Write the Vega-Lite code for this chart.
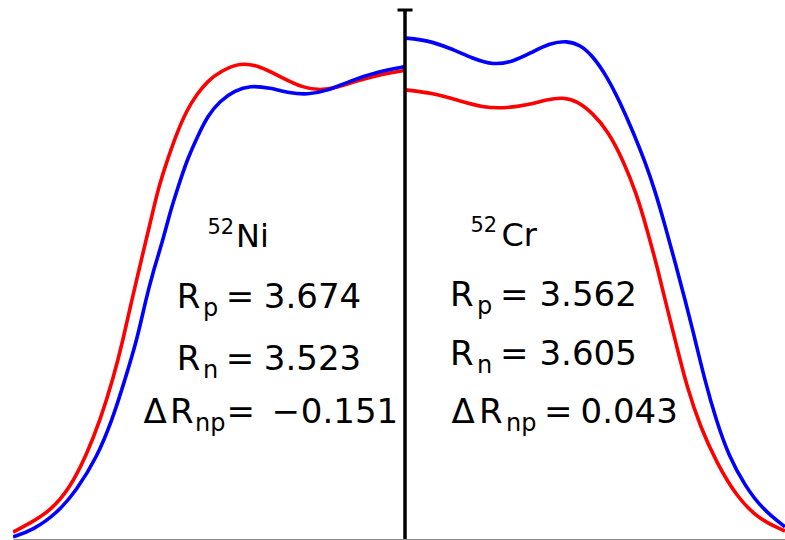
{
  "$schema": "https://vega.github.io/schema/vega-lite/v6.json",
  "width": 772,
  "height": 529,
  "autosize": {"type": "none"},
  "padding": {"left": 13, "top": 10, "right": 0, "bottom": 1},
  "background": "white",
  "config": {"view": {"stroke": null}},
  "datasets": {
    "curves": [
      {"c":"Ni-p","s":"p","r":-6.20,"rho":0.0013},{"c":"Ni-p","s":"p","r":-5.93,"rho":0.0030},{"c":"Ni-p","s":"p","r":-5.61,"rho":0.0053},{"c":"Ni-p","s":"p","r":-5.30,"rho":0.0096},{"c":"Ni-p","s":"p","r":-5.03,"rho":0.0161},{"c":"Ni-p","s":"p","r":-4.82,"rho":0.0225},{"c":"Ni-p","s":"p","r":-4.62,"rho":0.0301},{"c":"Ni-p","s":"p","r":-4.46,"rho":0.0376},{"c":"Ni-p","s":"p","r":-4.32,"rho":0.0452},{"c":"Ni-p","s":"p","r":-4.16,"rho":0.0533},{"c":"Ni-p","s":"p","r":-4.03,"rho":0.0597},{"c":"Ni-p","s":"p","r":-3.91,"rho":0.0660},{"c":"Ni-p","s":"p","r":-3.76,"rho":0.0716},{"c":"Ni-p","s":"p","r":-3.61,"rho":0.0767},{"c":"Ni-p","s":"p","r":-3.45,"rho":0.0811},{"c":"Ni-p","s":"p","r":-3.29,"rho":0.0841},{"c":"Ni-p","s":"p","r":-3.12,"rho":0.0866},{"c":"Ni-p","s":"p","r":-2.93,"rho":0.0883},{"c":"Ni-p","s":"p","r":-2.61,"rho":0.0901},{"c":"Ni-p","s":"p","r":-2.29,"rho":0.0894},{"c":"Ni-p","s":"p","r":-1.93,"rho":0.0871},{"c":"Ni-p","s":"p","r":-1.61,"rho":0.0853},{"c":"Ni-p","s":"p","r":-1.34,"rho":0.0848},{"c":"Ni-p","s":"p","r":-1.08,"rho":0.0853},{"c":"Ni-p","s":"p","r":-0.76,"rho":0.0866},{"c":"Ni-p","s":"p","r":-0.35,"rho":0.0879},{"c":"Ni-p","s":"p","r":0,"rho":0.0886},
      {"c":"Ni-n","s":"n","r":-6.20,"rho":0.0004},{"c":"Ni-n","s":"n","r":-5.88,"rho":0.0017},{"c":"Ni-n","s":"n","r":-5.50,"rho":0.0049},{"c":"Ni-n","s":"n","r":-5.19,"rho":0.0093},{"c":"Ni-n","s":"n","r":-4.87,"rho":0.0155},{"c":"Ni-n","s":"n","r":-4.63,"rho":0.0225},{"c":"Ni-n","s":"n","r":-4.43,"rho":0.0301},{"c":"Ni-n","s":"n","r":-4.24,"rho":0.0376},{"c":"Ni-n","s":"n","r":-4.10,"rho":0.0452},{"c":"Ni-n","s":"n","r":-3.99,"rho":0.0503},{"c":"Ni-n","s":"n","r":-3.84,"rho":0.0560},{"c":"Ni-n","s":"n","r":-3.72,"rho":0.0616},{"c":"Ni-n","s":"n","r":-3.59,"rho":0.0665},{"c":"Ni-n","s":"n","r":-3.45,"rho":0.0716},{"c":"Ni-n","s":"n","r":-3.27,"rho":0.0764},{"c":"Ni-n","s":"n","r":-3.12,"rho":0.0800},{"c":"Ni-n","s":"n","r":-2.93,"rho":0.0828},{"c":"Ni-n","s":"n","r":-2.69,"rho":0.0848},{"c":"Ni-n","s":"n","r":-2.45,"rho":0.0857},{"c":"Ni-n","s":"n","r":-2.14,"rho":0.0853},{"c":"Ni-n","s":"n","r":-1.82,"rho":0.0843},{"c":"Ni-n","s":"n","r":-1.55,"rho":0.0840},{"c":"Ni-n","s":"n","r":-1.23,"rho":0.0847},{"c":"Ni-n","s":"n","r":-0.87,"rho":0.0866},{"c":"Ni-n","s":"n","r":-0.44,"rho":0.0883},{"c":"Ni-n","s":"n","r":0,"rho":0.0893},
      {"c":"Cr-n","s":"n","r":0,"rho":0.0947},{"c":"Cr-n","s":"n","r":0.35,"rho":0.0943},{"c":"Cr-n","s":"n","r":0.71,"rho":0.0928},{"c":"Cr-n","s":"n","r":1.08,"rho":0.0908},{"c":"Cr-n","s":"n","r":1.39,"rho":0.0896},{"c":"Cr-n","s":"n","r":1.71,"rho":0.0902},{"c":"Cr-n","s":"n","r":2.02,"rho":0.0921},{"c":"Cr-n","s":"n","r":2.29,"rho":0.0937},{"c":"Cr-n","s":"n","r":2.56,"rho":0.0942},{"c":"Cr-n","s":"n","r":2.77,"rho":0.0934},{"c":"Cr-n","s":"n","r":2.97,"rho":0.0913},{"c":"Cr-n","s":"n","r":3.19,"rho":0.0875},{"c":"Cr-n","s":"n","r":3.40,"rho":0.0826},{"c":"Cr-n","s":"n","r":3.61,"rho":0.0769},{"c":"Cr-n","s":"n","r":3.80,"rho":0.0712},{"c":"Cr-n","s":"n","r":3.95,"rho":0.0660},{"c":"Cr-n","s":"n","r":4.11,"rho":0.0594},{"c":"Cr-n","s":"n","r":4.27,"rho":0.0524},{"c":"Cr-n","s":"n","r":4.43,"rho":0.0452},{"c":"Cr-n","s":"n","r":4.59,"rho":0.0376},{"c":"Cr-n","s":"n","r":4.74,"rho":0.0301},{"c":"Cr-n","s":"n","r":4.92,"rho":0.0225},{"c":"Cr-n","s":"n","r":5.12,"rho":0.0157},{"c":"Cr-n","s":"n","r":5.38,"rho":0.0100},{"c":"Cr-n","s":"n","r":5.65,"rho":0.0057},{"c":"Cr-n","s":"n","r":6.01,"rho":0.0023},
      {"c":"Cr-p","s":"p","r":0,"rho":0.0849},{"c":"Cr-p","s":"p","r":0.44,"rho":0.0843},{"c":"Cr-p","s":"p","r":0.87,"rho":0.0828},{"c":"Cr-p","s":"p","r":1.23,"rho":0.0816},{"c":"Cr-p","s":"p","r":1.55,"rho":0.0814},{"c":"Cr-p","s":"p","r":1.93,"rho":0.0820},{"c":"Cr-p","s":"p","r":2.25,"rho":0.0831},{"c":"Cr-p","s":"p","r":2.50,"rho":0.0835},{"c":"Cr-p","s":"p","r":2.72,"rho":0.0828},{"c":"Cr-p","s":"p","r":2.97,"rho":0.0805},{"c":"Cr-p","s":"p","r":3.21,"rho":0.0771},{"c":"Cr-p","s":"p","r":3.45,"rho":0.0716},{"c":"Cr-p","s":"p","r":3.67,"rho":0.0650},{"c":"Cr-p","s":"p","r":3.83,"rho":0.0584},{"c":"Cr-p","s":"p","r":3.99,"rho":0.0514},{"c":"Cr-p","s":"p","r":4.14,"rho":0.0439},{"c":"Cr-p","s":"p","r":4.30,"rho":0.0363},{"c":"Cr-p","s":"p","r":4.46,"rho":0.0287},{"c":"Cr-p","s":"p","r":4.67,"rho":0.0212},{"c":"Cr-p","s":"p","r":4.93,"rho":0.0144},{"c":"Cr-p","s":"p","r":5.25,"rho":0.0079},{"c":"Cr-p","s":"p","r":5.61,"rho":0.0036},{"c":"Cr-p","s":"p","r":6.01,"rho":0.0015}
    ],
    "labels": [
      {"t":"52","role":"sup","r":-3.124,"rho":0.05766},
      {"t":"Ni","role":"name","r":-2.673,"rho":0.0552},
      {"t":"R","role":"main","r":-3.611,"rho":0.04367},
      {"t":"p","role":"sub","r":-3.195,"rho":0.04216},
      {"t":"=","role":"main","r":-2.837,"rho":0.04367},
      {"t":"3.674","role":"main","r":-2.233,"rho":0.04367},
      {"t":"R","role":"main","r":-3.611,"rho":0.03195},
      {"t":"n","role":"sub","r":-3.195,"rho":0.03043},
      {"t":"=","role":"main","r":-2.837,"rho":0.03195},
      {"t":"3.523","role":"main","r":-2.233,"rho":0.03195},
      {"t":"Δ","role":"main","r":-4.136,"rho":0.02193},
      {"t":"R","role":"main","r":-3.717,"rho":0.02193},
      {"t":"np","role":"sub","r":-3.321,"rho":0.02042},
      {"t":"=","role":"main","r":-2.822,"rho":0.02193},
      {"t":"−","role":"main","r":-2.111,"rho":0.02193},
      {"t":"0.151","role":"main","r":-1.648,"rho":0.02193},
      {"t":"52","role":"sup","r":1.036,"rho":0.05803},
      {"t":"Cr","role":"name","r":1.526,"rho":0.05539},
      {"t":"R","role":"main","r":0.712,"rho":0.04405},
      {"t":"p","role":"sub","r":1.139,"rho":0.04253},
      {"t":"=","role":"main","r":1.503,"rho":0.04405},
      {"t":"3.562","role":"main","r":2.127,"rho":0.04405},
      {"t":"R","role":"main","r":0.712,"rho":0.03289},
      {"t":"n","role":"sub","r":1.139,"rho":0.03138},
      {"t":"=","role":"main","r":1.503,"rho":0.03289},
      {"t":"3.605","role":"main","r":2.127,"rho":0.03289},
      {"t":"Δ","role":"main","r":0.735,"rho":0.02193},
      {"t":"R","role":"main","r":1.170,"rho":0.02193},
      {"t":"np","role":"sub","r":1.597,"rho":0.02042},
      {"t":"=","role":"main","r":2.198,"rho":0.02193},
      {"t":"0.043","role":"main","r":2.776,"rho":0.02193}
    ],
    "axisline": [{"r":0,"rho":0,"rho2":0.1}]
  },
  "layer": [
    {
      "data": {"name": "curves"},
      "mark": {"type": "line", "strokeWidth": 3.6, "interpolate": "basis", "clip": true},
      "encoding": {
        "x": {"field": "r", "type": "quantitative", "scale": {"domain": [-6.2, 6.01], "nice": false, "zero": false},
              "axis": {"labels": false, "ticks": false, "grid": false, "title": null, "domain": true, "domainColor": "#888888", "domainWidth": 1}},
        "y": {"field": "rho", "type": "quantitative", "scale": {"domain": [0, 0.1], "nice": false}, "axis": null},
        "color": {"field": "s", "type": "nominal", "scale": {"domain": ["p", "n"], "range": ["#ff0000", "#0000ff"]}, "legend": null},
        "detail": {"field": "c"},
        "order": {"field": "r", "type": "quantitative"}
      }
    },
    {
      "data": {"name": "axisline"},
      "mark": {"type": "rule", "color": "black", "strokeWidth": 3.5},
      "encoding": {
        "x": {"field": "r", "type": "quantitative"},
        "y": {"field": "rho", "type": "quantitative"},
        "y2": {"field": "rho2"}
      }
    },
    {
      "data": {"name": "axisline"},
      "mark": {"type": "tick", "orient": "horizontal", "color": "black", "size": 15, "thickness": 3, "opacity": 1},
      "encoding": {
        "x": {"field": "r", "type": "quantitative"},
        "y": {"field": "rho2", "type": "quantitative"}
      }
    },
    {
      "data": {"name": "labels"},
      "transform": [{"filter": "datum.role === 'main'"}],
      "mark": {"type": "text", "align": "left", "baseline": "alphabetic", "font": "DejaVu Sans", "fontSize": 34, "color": "black"},
      "encoding": {
        "x": {"field": "r", "type": "quantitative"},
        "y": {"field": "rho", "type": "quantitative"},
        "text": {"field": "t"}
      }
    },
    {
      "data": {"name": "labels"},
      "transform": [{"filter": "datum.role === 'sub'"}],
      "mark": {"type": "text", "align": "left", "baseline": "alphabetic", "font": "DejaVu Sans", "fontSize": 24, "color": "black"},
      "encoding": {
        "x": {"field": "r", "type": "quantitative"},
        "y": {"field": "rho", "type": "quantitative"},
        "text": {"field": "t"}
      }
    },
    {
      "data": {"name": "labels"},
      "transform": [{"filter": "datum.role === 'sup'"}],
      "mark": {"type": "text", "align": "left", "baseline": "alphabetic", "font": "DejaVu Sans", "fontSize": 21, "color": "black"},
      "encoding": {
        "x": {"field": "r", "type": "quantitative"},
        "y": {"field": "rho", "type": "quantitative"},
        "text": {"field": "t"}
      }
    },
    {
      "data": {"name": "labels"},
      "transform": [{"filter": "datum.role === 'name'"}],
      "mark": {"type": "text", "align": "left", "baseline": "alphabetic", "font": "DejaVu Sans", "fontSize": 32, "color": "black"},
      "encoding": {
        "x": {"field": "r", "type": "quantitative"},
        "y": {"field": "rho", "type": "quantitative"},
        "text": {"field": "t"}
      }
    }
  ]
}
